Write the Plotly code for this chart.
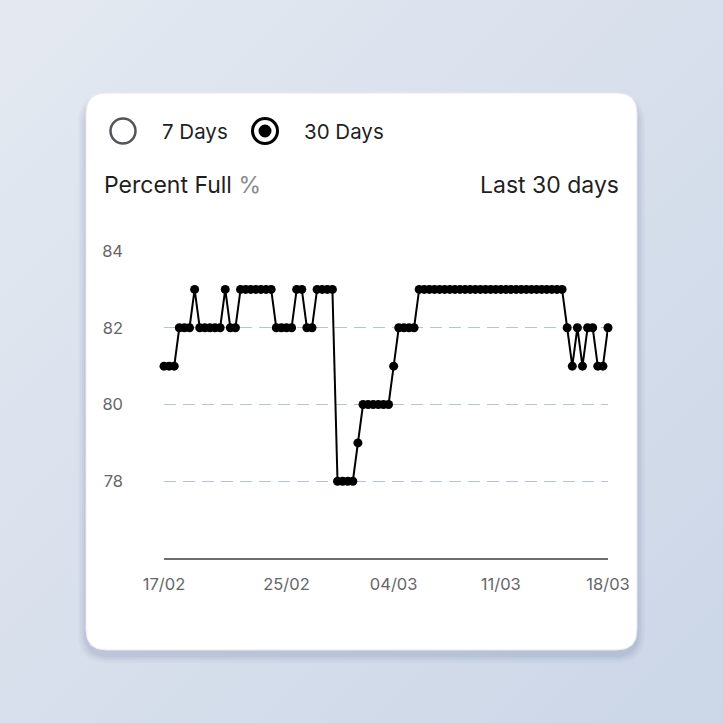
import base64
import pandas as pd
import plotly.graph_objects as go

W = H = 723

# readings every 8 hours, 17/02 -> 18/03
start = "2023-02-17 00:00"
percent_full = [
    81, 81, 81, 82, 82, 82, 83, 82, 82, 82, 82, 82, 83, 82, 82,
    83, 83, 83, 83, 83, 83, 83, 82, 82, 82, 82, 83, 83, 82, 82,
    83, 83, 83, 83, 78, 78, 78, 78, 79, 80, 80, 80, 80, 80, 80,
    81, 82, 82, 82, 82,
    83, 83, 83, 83, 83, 83, 83, 83, 83, 83, 83, 83, 83, 83, 83,
    83, 83, 83, 83, 83, 83, 83, 83, 83, 83, 83, 83, 83, 83,
    82, 81, 82, 81, 82, 82, 81, 81, 82,
]
tick_dates = ["2023-02-17", "2023-02-25", "2023-03-04", "2023-03-11", "2023-03-18"]
tick_labels = ["17/02", "25/02", "04/03", "11/03", "18/03"]
y_ticks = [78, 80, 82, 84]

times = pd.date_range(start, periods=len(percent_full), freq="8h")


def px(x):
    return x / W


def py(y):
    return 1 - y / H


def rounded_rect(x0, y0, x1, y1, r):
    # pixel coords (top-left origin) -> paper path
    X0, X1, R = px(x0), px(x1), r / W
    Y0, Y1 = py(y0), py(y1)
    return (f"M {X0 + R},{Y0} L {X1 - R},{Y0} Q {X1},{Y0} {X1},{Y0 - R} "
            f"L {X1},{Y1 + R} Q {X1},{Y1} {X1 - R},{Y1} "
            f"L {X0 + R},{Y1} Q {X0},{Y1} {X0},{Y1 + R} "
            f"L {X0},{Y0 - R} Q {X0},{Y0} {X0 + R},{Y0} Z")


# page background gradient
bg_svg = (
    '<svg xmlns="http://www.w3.org/2000/svg" width="100" height="100" preserveAspectRatio="none">'
    '<defs><linearGradient id="g" x1="0" y1="0" x2="1" y2="1">'
    '<stop offset="0" stop-color="#e4e9f1"/><stop offset="1" stop-color="#cbd6e7"/>'
    '</linearGradient></defs><rect width="100" height="100" fill="url(#g)"/></svg>'
)
bg_uri = "data:image/svg+xml;base64," + base64.b64encode(bg_svg.encode()).decode()

fig = go.Figure()

fig.add_trace(go.Scatter(
    x=times,
    y=percent_full,
    mode="lines+markers",
    line=dict(color="#000000", width=2),
    marker=dict(color="#000000", size=9),
    cliponaxis=False,
    hovertemplate="%{x|%d/%m %H:%M}<br>%{y}%<extra></extra>",
))

shapes = []
# soft shadow under the card
for i, op in enumerate([0.04, 0.05, 0.06, 0.08]):
    grow = 8 - 2 * i
    shapes.append(dict(
        type="path", xref="paper", yref="paper",
        path=rounded_rect(86 - grow, 96 - grow + 6, 637 + grow, 651 + grow + 4, 22 + grow),
        fillcolor=f"rgba(90,110,150,{op})", line=dict(width=0), layer="below",
    ))
# card
shapes.append(dict(
    type="path", xref="paper", yref="paper",
    path=rounded_rect(86, 93, 637, 650, 20),
    fillcolor="#ffffff", line=dict(color="#e6e9ef", width=1), layer="below",
))
# radio buttons
r = 12.5
shapes.append(dict(type="circle", xref="paper", yref="paper",
                   x0=px(123 - r), x1=px(123 + r), y0=py(131 + r), y1=py(131 - r),
                   line=dict(color="#55535a", width=2.5)))
shapes.append(dict(type="circle", xref="paper", yref="paper",
                   x0=px(265 - r), x1=px(265 + r), y0=py(131 + r), y1=py(131 - r),
                   line=dict(color="#000000", width=3)))
ri = 6.5
shapes.append(dict(type="circle", xref="paper", yref="paper",
                   x0=px(265 - ri), x1=px(265 + ri), y0=py(131 + ri), y1=py(131 - ri),
                   fillcolor="#000000", line=dict(width=0)))

text_font = dict(family="Inter, Noto Sans, sans-serif", size=20.5, color="#1f1f1f")
annotations = [
    dict(text="7 Days", x=px(160), y=py(131), xanchor="left", yanchor="middle", font=text_font),
    dict(text="30 Days", x=px(302), y=py(131), xanchor="left", yanchor="middle", font=text_font),
    dict(text="Percent Full <span style='color:#8a8a8a'>%</span>", x=px(102), y=py(185),
         xanchor="left", yanchor="middle", font=dict(text_font, size=23)),
    dict(text="Last 30 days", x=px(621), y=py(185), xanchor="right", yanchor="middle",
         font=dict(text_font, size=23)),
]
for a in annotations:
    a.update(xref="paper", yref="paper", showarrow=False)

tick_font = dict(family="Inter, Noto Sans, sans-serif", size=16.5, color="#666666")

fig.update_layout(
    width=W, height=H,
    margin=dict(l=0, r=0, t=0, b=0, pad=0),
    paper_bgcolor="#d9e0ec",
    plot_bgcolor="rgba(0,0,0,0)",
    showlegend=False,
    shapes=shapes,
    annotations=annotations,
    images=[dict(source=bg_uri, xref="paper", yref="paper", x=0, y=1,
                 sizex=1, sizey=1, sizing="stretch", layer="below")],
    xaxis=dict(
        domain=[px(164), px(608)],
        type="date",
        range=[times[0], times[-1]],
        tickvals=tick_dates,
        ticktext=tick_labels,
        showgrid=False,
        showline=True,
        linecolor="#6e6e6e",
        linewidth=1.5,
        ticks="",
        ticklabelstandoff=10,
        tickfont=tick_font,
        zeroline=False,
        automargin=False,
    ),
    yaxis=dict(
        domain=[py(558), py(251)],
        range=[76, 84],
        tickvals=y_ticks,
        showgrid=True,
        gridcolor="#b3c6cf",
        griddash="12px,7px",
        gridwidth=1,
        showline=False,
        zeroline=False,
        ticks="",
        ticklabelstandoff=40,
        tickfont=tick_font,
        automargin=False,
    ),
)

fig.write_html("out.html", config={"displayModeBar": False},
               post_script="document.body.style.margin='0';")
